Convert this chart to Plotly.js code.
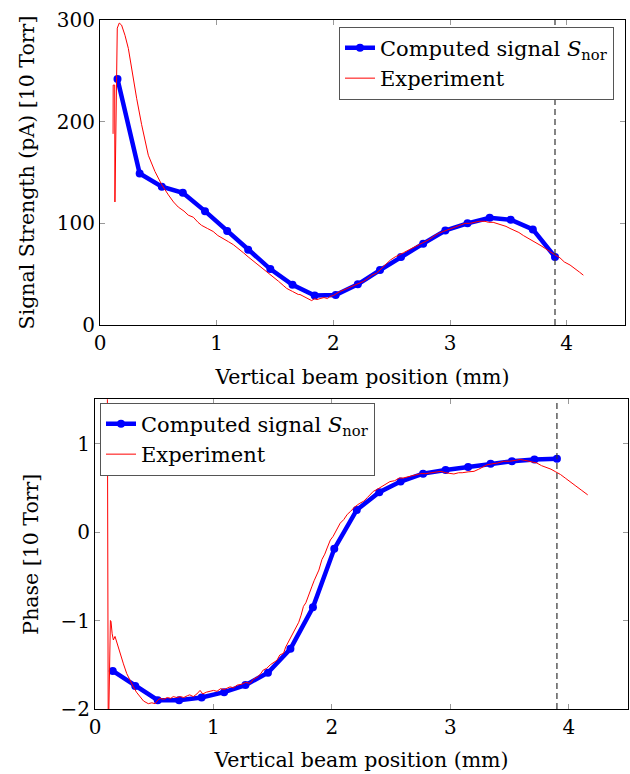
<!DOCTYPE html>
<html><head><meta charset="utf-8">
<script src="https://cdn.plot.ly/plotly-3.0.1.min.js"></script>
<style>html,body{margin:0;padding:0;background:#fff}</style>
</head><body><div id="chart" style="width:630px;height:774px"></div>
<script>
// Computed signal sample positions (mm)
const posX = [0.15,0.34,0.53,0.71,0.90,1.09,1.27,1.46,1.65,1.84,2.02,2.21,2.40,2.58,2.77,2.96,3.15,3.34,3.52,3.71,3.90];
// Computed signal strength
const signalComputed = [242,149,136,130,112,92.5,74,55,39.5,29,29.5,40,54,67,80,93,100,105.5,103.5,94,67];
// Computed phase
const phaseComputed = [-1.57,-1.74,-1.90,-1.90,-1.87,-1.81,-1.73,-1.59,-1.32,-0.85,-0.19,0.25,0.45,0.57,0.66,0.70,0.735,0.773,0.80,0.82,0.827];

// Experiment, signal strength
const expSignalX = [0.112,0.113,0.126,0.128,0.148,0.165,0.185,0.214,0.243,0.271,0.314,0.357,0.414,0.471,0.529,0.586,0.63,0.671,0.72,0.757,0.80,0.84,0.871,0.92,0.97,1.01,1.06,1.10,1.143,1.19,1.23,1.27,1.314,1.36,1.40,1.45,1.49,1.53,1.57,1.60,1.65,1.70,1.714,1.75,1.79,1.814,1.84,1.86,1.886,1.92,1.95,1.97,2.00,2.03,2.057,2.10,2.14,2.171,2.22,2.26,2.286,2.33,2.371,2.42,2.46,2.49,2.53,2.57,2.60,2.65,2.70,2.74,2.771,2.82,2.87,2.90,2.943,2.99,3.04,3.086,3.13,3.17,3.2,3.25,3.3,3.33,3.37,3.4,3.44,3.48,3.514,3.55,3.59,3.629,3.66,3.70,3.743,3.78,3.82,3.857,3.90,3.943,3.98,4.029,4.07,4.11,4.143];
const expSignalY = [188,236,236,121,292,297,295,285,272,252,223,197,167,151,138,128,121,116,112,108,106,101,98,95,92,88,85,82,79,75,71,67,63,59,55,51,47,43,39,36,33,30,30,28,25,24,26,25,26,27,26,28,29,31,33,35,37,38,41,43,45,49,51,56,60,64,67,69,71,74,77,79,81,84,88,90,92,94,96,98,100,100,101,102,102,101,101,100,98,97,95,93,91,88,86,83,81,78,75,72,69,66,62,59,55,52,49];

// Experiment, phase
const expPhaseX = [0.104,0.106,0.112,0.130,0.135,0.145,0.155,0.169,0.19,0.211,0.24,0.268,0.30,0.324,0.35,0.38,0.41,0.45,0.48,0.507,0.53,0.55,0.58,0.61,0.64,0.66,0.69,0.72,0.75,0.78,0.80,0.83,0.86,0.887,0.91,0.94,0.97,1.0,1.03,1.06,1.09,1.14,1.17,1.2,1.24,1.27,1.31,1.34,1.37,1.40,1.42,1.45,1.48,1.51,1.536,1.56,1.592,1.61,1.634,1.655,1.676,1.70,1.72,1.74,1.76,1.78,1.80,1.83,1.85,1.87,1.89,1.916,1.94,1.96,1.987,2.01,2.04,2.07,2.10,2.13,2.155,2.19,2.23,2.27,2.30,2.35,2.38,2.42,2.46,2.49,2.53,2.57,2.60,2.66,2.70,2.75,2.79,2.83,2.87,2.92,2.96,3.0,3.03,3.07,3.1,3.15,3.2,3.24,3.27,3.31,3.35,3.40,3.45,3.50,3.55,3.59,3.63,3.66,3.70,3.73,3.77,3.81,3.85,3.89,3.93,3.97,4.015,4.06,4.11,4.16];
const expPhaseY = [1.8,-2.4,-2.4,-1.0,-1.01,-1.15,-1.22,-1.18,-1.28,-1.37,-1.49,-1.60,-1.69,-1.75,-1.81,-1.86,-1.91,-1.94,-1.93,-1.94,-1.90,-1.88,-1.89,-1.87,-1.88,-1.86,-1.87,-1.86,-1.87,-1.85,-1.84,-1.86,-1.83,-1.79,-1.83,-1.81,-1.80,-1.79,-1.80,-1.77,-1.78,-1.75,-1.76,-1.73,-1.72,-1.70,-1.71,-1.66,-1.64,-1.60,-1.56,-1.54,-1.50,-1.47,-1.45,-1.39,-1.37,-1.30,-1.24,-1.20,-1.14,-1.08,-1.02,-0.94,-0.84,-0.80,-0.72,-0.62,-0.55,-0.48,-0.43,-0.31,-0.25,-0.18,-0.09,-0.05,0.03,0.10,0.14,0.20,0.23,0.28,0.32,0.35,0.39,0.46,0.48,0.51,0.54,0.57,0.58,0.61,0.61,0.63,0.64,0.66,0.66,0.67,0.68,0.686,0.67,0.66,0.656,0.67,0.67,0.68,0.686,0.71,0.73,0.76,0.77,0.78,0.80,0.80,0.81,0.82,0.81,0.80,0.79,0.78,0.75,0.73,0.71,0.68,0.65,0.61,0.57,0.52,0.47,0.42];

const cutoffX = 3.9;
const xTicks = [0,1,2,3,4];
const signalTicks = [0,100,200,300];
const phaseTicks = [-2,-1,0,1];
const computedName = 'Computed signal <i>S</i><sub>nor</sub>';
const expName = 'Experiment';

const FONT = 'DejaVu Serif';
const BLUE = '#0000ff', RED = '#ff0000';

const traces = [
  {x: posX, y: signalComputed, name: computedName, mode: 'lines+markers', xaxis: 'x', yaxis: 'y', legend: 'legend',
   line: {color: BLUE, width: 4.5}, marker: {color: BLUE, size: 8}},
  {x: expSignalX, y: expSignalY, name: expName, mode: 'lines', xaxis: 'x', yaxis: 'y', legend: 'legend',
   line: {color: RED, width: 1}},
  {x: posX, y: phaseComputed, name: computedName, mode: 'lines+markers', xaxis: 'x2', yaxis: 'y2', legend: 'legend2',
   line: {color: BLUE, width: 4.5}, marker: {color: BLUE, size: 8}},
  {x: expPhaseX, y: expPhaseY, name: expName, mode: 'lines', xaxis: 'x2', yaxis: 'y2', legend: 'legend2',
   line: {color: RED, width: 1}}
];

const axBase = {showline: true, linecolor: '#000', linewidth: 1, mirror: 'ticks', ticks: 'inside', ticklen: 5,
  tickcolor: '#999', tickwidth: 1, showgrid: false, zeroline: false, automargin: false,
  tickfont: {family: FONT, size: 20, color: '#000'}};
const titleFont = {family: FONT, size: 20.5, color: '#000'};
const legendFont = {family: FONT, size: 21, color: '#000'};

const layout = {
  width: 630, height: 774,
  margin: {l: 0, r: 0, t: 0, b: 0},
  font: {family: FONT, size: 20, color: '#000'},
  paper_bgcolor: '#fff', plot_bgcolor: '#fff',
  showlegend: true,
  xaxis: Object.assign({}, axBase, {domain: [100/630, 625/630], range: [0, 4.5], tickvals: xTicks, anchor: 'y',
    title: {text: 'Vertical beam position (mm)', font: titleFont, standoff: 15}}),
  yaxis: Object.assign({}, axBase, {domain: [1 - 325/774, 1 - 20/774], range: [0, 300], tickvals: signalTicks, anchor: 'x',
    title: {text: 'Signal Strength (pA) [10 Torr]', font: titleFont, standoff: 16}}),
  xaxis2: Object.assign({}, axBase, {domain: [95/630, 628/630], range: [0, 4.5], tickvals: xTicks, anchor: 'y2',
    title: {text: 'Vertical beam position (mm)', font: titleFont, standoff: 14}}),
  yaxis2: Object.assign({}, axBase, {domain: [1 - 709/774, 1 - 399.3/774], range: [-2, 1.5], tickvals: phaseTicks, anchor: 'x2',
    title: {text: 'Phase [10 Torr]', font: titleFont, standoff: 16}}),
  legend: {x: 614/630, xanchor: 'right', y: 1 - 26.7/774, yanchor: 'top', bordercolor: '#555', borderwidth: 1,
    bgcolor: '#fff', font: legendFont, tracegroupgap: 0},
  legend2: {x: 100/630, xanchor: 'left', y: 1 - 402.7/774, yanchor: 'top', bordercolor: '#555', borderwidth: 1,
    bgcolor: '#fff', font: legendFont, tracegroupgap: 0},
  shapes: [
    {type: 'line', xref: 'x', yref: 'y domain', x0: cutoffX, x1: cutoffX, y0: 0, y1: 1,
     line: {color: '#333', width: 1.2, dash: '6px,4px'}},
    {type: 'line', xref: 'x2', yref: 'y2 domain', x0: cutoffX, x1: cutoffX, y0: 0, y1: 1,
     line: {color: '#333', width: 1.2, dash: '6px,4px'}}
  ]
};

Plotly.newPlot('chart', traces, layout, {displayModeBar: false, staticPlot: true});
</script>
</body></html>
